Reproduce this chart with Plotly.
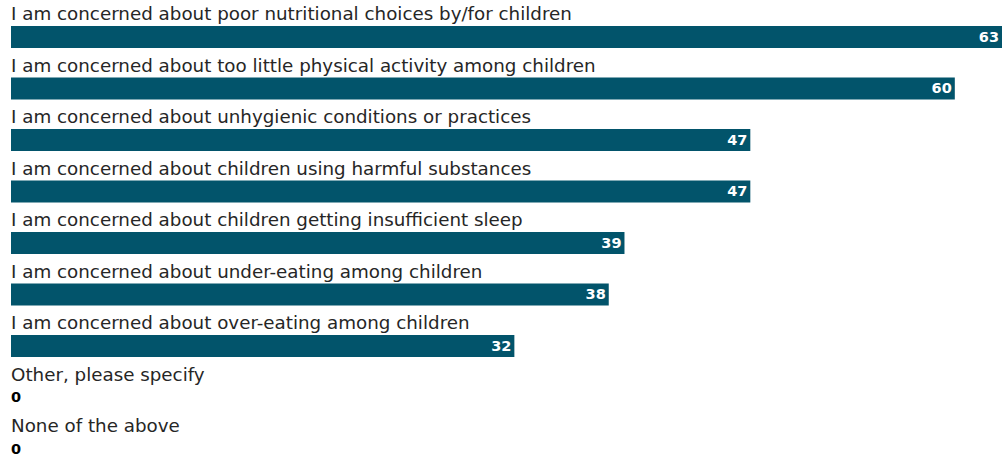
import plotly.graph_objects as go

categories = [
    "I am concerned about poor nutritional choices by/for children",
    "I am concerned about too little physical activity among children",
    "I am concerned about unhygienic conditions or practices",
    "I am concerned about children using harmful substances",
    "I am concerned about children getting insufficient sleep",
    "I am concerned about under-eating among children",
    "I am concerned about over-eating among children",
    "Other, please specify",
    "None of the above",
]
values = [63, 60, 47, 47, 39, 38, 32, 0, 0]

BAR = "#02546B"
FONT = "DejaVu Sans, sans-serif"

ypos = list(range(len(categories)))

fig = go.Figure()
fig.add_trace(go.Bar(
    x=values, y=ypos, orientation="h",
    marker=dict(color=BAR, line=dict(width=0)),
    width=0.43,
    text=[str(v) if v > 0 else "" for v in values],
    textposition="inside", insidetextanchor="end", textangle=0,
    textfont=dict(color="white", size=14.5, family=FONT, weight="bold"),
    hoverinfo="skip", cliponaxis=False,
))

annotations = []
for i, (c, v) in enumerate(zip(categories, values)):
    annotations.append(dict(
        x=0, y=i, xref="x", yref="y", text=c, showarrow=False,
        xanchor="left", yanchor="middle", yshift=23, xshift=-2,
        font=dict(size=18.3, color="#262626", family=FONT),
    ))
    if v == 0:
        annotations.append(dict(
            x=0, y=i, xref="x", yref="y", text="<b>0</b>", showarrow=False,
            xanchor="left", yanchor="middle", xshift=-2,
            font=dict(size=14.5, color="#000000", family=FONT),
        ))

fig.update_layout(
    width=1008, height=458,
    margin=dict(l=11, r=6, t=0, b=0),
    paper_bgcolor="white", plot_bgcolor="white",
    showlegend=False,
    xaxis=dict(range=[0, 63], visible=False, fixedrange=True),
    yaxis=dict(range=[8.175, -0.718], visible=False, fixedrange=True),
    annotations=annotations,
    uniformtext=dict(minsize=8),
)

fig.write_html(
    "out.html",
    config={"displayModeBar": False},
    post_script="document.body.style.margin='0';document.body.style.overflow='hidden';",
)
